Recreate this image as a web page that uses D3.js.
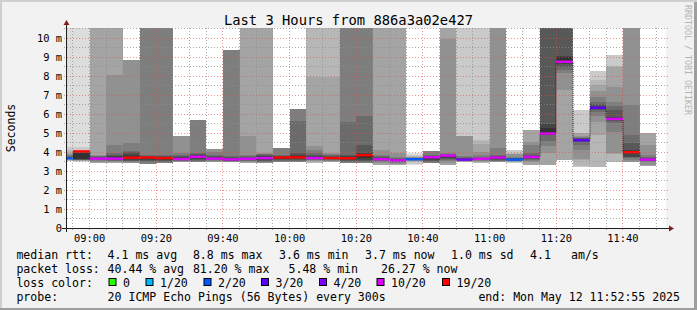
<!DOCTYPE html>
<html><head><meta charset="utf-8">
<script src="https://cdn.jsdelivr.net/npm/d3@7"></script>
<style>
html,body{margin:0;padding:0;background:#f2f2f2;}
svg{display:block;}
text{font-family:"DejaVu Sans Mono",monospace;}
</style></head><body>
<svg id="c" width="697" height="310"></svg>
<script>
// ---------------- data ----------------
const title = "Last 3 Hours from 886a3a02e427";
const yTitle = "Seconds";
const watermark = "RRDTOOL / TOBI OETIKER";
const endTime = "2025-05-12T11:52:55Z";
const firstColumnEnd = "2025-05-12T08:55:00Z"; // 5-minute RRD steps
const xTickLabels = ["09:00","09:20","09:40","10:00","10:20","10:40","11:00","11:20","11:40"];
const yTickValues = [0,1,2,3,4,5,6,7,8,9,10];
const yTickLabels = ["0","1 m","2 m","3 m","4 m","5 m","6 m","7 m","8 m","9 m","10 m"];
const yMax = 10.526; // ms, upper limit of the graph

// median rtt per 5-minute column (ms)
const medians = [3.67,4.03,3.65,3.65,3.70,3.71,3.68,3.63,3.75,3.65,3.61,3.64,3.68,3.71,3.72,3.68,3.68,3.67,
                 3.83,3.62,3.56,3.62,3.72,3.81,3.60,3.64,3.71,3.60,3.74,4.97,8.75,4.62,6.33,5.74,3.99,3.60];
// lost pings (of 20) per column
const losses = [2,16,8,8,12,12,12,8,8,8,8,7,7,12,12,6,12,12,
                12,7,7,2,8,7,4,8,9,2,8,8,8,3,3,6,12,7];
// sorted ping rtts per column (ms); null = lost, OFF = above the graph
const N = null, OFF = Infinity;
const pings = [
 [3.50,3.53,3.55,3.57,3.59,3.61,3.63,3.64,3.65,3.66,3.70,3.73,3.76,3.79,3.83,3.88,3.95,4.10,4.28,OFF],
 [3.48,3.50,3.52,3.54,3.56,3.58,3.59,3.60,3.62,3.63,3.96,3.97,3.98,3.99,4.00,4.01,4.02,4.05,4.28,OFF],
 [N,N,N,3.40,3.49,3.55,3.58,3.61,3.63,3.64,3.68,3.71,3.74,3.77,3.80,3.84,OFF,N,N,N],
 [N,N,N,3.42,3.46,3.50,3.54,3.57,3.60,3.62,3.72,3.78,3.85,3.93,4.37,8.05,OFF,N,N,N],
 [N,N,N,N,3.40,3.45,3.50,3.55,3.60,3.65,3.78,3.88,3.98,4.05,4.46,8.84,N,N,N,N],
 [N,N,N,N,N,3.38,3.45,3.52,3.58,3.64,3.73,3.76,3.80,3.85,OFF,N,N,N,N,N],
 [N,N,N,N,N,3.40,3.46,3.52,3.58,3.63,3.72,3.76,3.80,3.86,OFF,N,N,N,N,N],
 [N,N,N,N,3.45,3.50,3.54,3.57,3.59,3.61,3.68,3.74,3.80,3.86,3.93,4.84,N,N,N,N],
 [N,N,N,N,N,3.45,3.52,3.58,3.63,3.68,3.79,3.83,3.88,3.93,5.68,N,N,N,N,N],
 [N,N,N,N,3.47,3.52,3.56,3.59,3.61,3.63,3.68,3.72,3.78,3.84,4.02,4.16,N,N,N,N],
 [N,N,N,N,N,3.45,3.50,3.54,3.57,3.59,3.63,3.68,3.74,3.80,9.37,N,N,N,N,N],
 [N,N,N,3.42,3.47,3.52,3.55,3.58,3.60,3.62,3.66,3.69,3.73,3.78,3.85,4.84,OFF,N,N,N],
 [N,N,N,3.40,3.43,3.46,3.49,3.53,3.58,3.63,3.73,3.78,3.83,3.87,3.90,3.93,OFF,N,N,N],
 [N,N,N,N,N,3.47,3.52,3.57,3.61,3.65,3.73,3.77,3.81,3.86,4.22,N,N,N,N,N],
 [N,N,N,N,N,3.45,3.50,3.56,3.62,3.67,3.79,3.85,3.93,5.63,6.26,N,N,N,N,N],
 [N,N,3.42,3.52,3.55,3.58,3.60,3.62,3.64,3.66,3.72,3.78,3.85,3.95,4.11,4.33,7.96,OFF,N,N],
 [N,N,3.45,3.48,3.52,3.55,3.58,3.61,3.63,3.65,3.72,3.76,3.80,3.84,3.88,3.93,7.96,OFF,N,N],
 [N,N,N,N,N,3.42,3.47,3.53,3.58,3.63,3.72,3.78,3.84,5.60,OFF,N,N,N,N,N],
 [N,N,N,N,N,3.40,3.46,3.52,3.60,3.70,3.86,3.93,4.35,5.90,OFF,N,N,N,N,N],
 [N,N,N,3.32,3.40,3.48,3.53,3.56,3.58,3.60,3.65,3.69,3.73,3.78,3.84,4.11,OFF,N,N,N],
 [N,N,N,3.32,3.38,3.43,3.47,3.50,3.52,3.54,3.58,3.61,3.65,3.70,3.75,3.93,OFF,N,N,N],
 [3.32,3.38,3.45,3.50,3.53,3.56,3.58,3.59,3.60,3.61,3.64,3.66,3.67,3.68,3.70,3.72,3.76,3.80,3.85,3.97],
 [N,N,N,N,N,3.40,3.48,3.55,3.60,3.64,3.75,3.77,3.81,3.86,4.04,N,N,N,N,N],
 [N,N,N,3.32,3.40,3.50,3.58,3.65,3.70,3.75,3.82,3.84,3.86,3.89,3.93,9.95,OFF,N,N,N],
 [N,3.45,3.47,3.49,3.51,3.53,3.55,3.56,3.57,3.58,3.62,3.65,3.68,3.72,3.80,4.82,4.84,4.86,OFF,N],
 [N,3.40,3.44,3.47,3.50,3.53,3.56,3.58,3.60,3.62,3.65,3.67,3.70,3.75,3.84,4.00,4.40,4.63,OFF,N],
 [N,N,N,N,3.47,3.51,3.55,3.59,3.62,3.65,3.74,3.77,3.81,3.86,4.21,OFF,N,N,N,N],
 [N,3.40,3.45,3.48,3.50,3.53,3.55,3.57,3.58,3.59,3.63,3.65,3.67,3.70,3.75,3.89,3.91,3.93,4.11,N],
 [N,N,N,3.32,3.45,3.52,3.57,3.62,3.66,3.70,3.77,3.81,3.86,3.93,4.35,4.54,5.16,N,N,N],
 [N,N,N,3.32,3.93,4.30,4.60,4.88,4.90,4.93,5.25,5.45,OFF,OFF,OFF,OFF,OFF,N,N,N],
 [N,N,N,3.58,7.26,8.14,8.30,8.45,8.62,8.70,9.02,9.05,OFF,OFF,OFF,OFF,OFF,N,N,N],
 [N,3.22,3.24,3.58,3.62,4.10,4.37,4.55,4.58,4.60,4.65,4.68,4.72,4.76,4.80,4.85,4.98,5.00,6.21,N],
 [N,3.22,3.23,4.90,5.60,5.90,6.10,6.20,6.25,6.28,6.38,6.42,6.55,6.65,6.90,7.19,7.50,7.79,8.26,N],
 [N,3.45,3.46,3.92,3.93,5.07,5.50,5.62,5.67,5.70,5.78,5.82,6.21,6.40,6.65,7.44,8.49,8.52,9.10,N],
 [N,N,N,N,3.45,3.58,3.66,3.72,3.75,3.97,4.02,4.11,4.46,4.89,6.45,OFF,N,N,N,N],
 [N,N,N,3.28,3.33,3.46,3.50,3.54,3.56,3.58,3.63,3.65,3.68,3.72,3.84,4.37,5.02,N,N,N]
];

// loss colour legend
const lossSteps  = [0,1,2,3,4,10,19];
const lossLabels = ["0","1/20","2/20","3/20","4/20","10/20","19/20"];
const lossColors = ["#26ff00","#00b8ff","#0059ff","#5e00ff","#7e00ff","#dd00ff","#ff0000"];

// legend text rows
const rttItems  = ["median rtt:","4.1 ms avg","8.8 ms max","3.6 ms min","3.7 ms now","1.0 ms sd","4.1","am/s"];
const lossItems = ["packet loss:","40.44 % avg","81.20 % max","5.48 % min","26.27 % now"];
const lossColorTitle = "loss color:";
const probeItems = ["probe:","20 ICMP Echo Pings (56 Bytes) every 300s"];
const endText = "end: Mon May 12 11:52:55 2025";

// ---------------- layout ----------------
const W = 697, H = 310;
const P = {left:66, right:666, top:28, bottom:228};
const svg = d3.select("#c");

svg.append("rect").attr("width",W).attr("height",H).attr("fill","#f2f2f2");
svg.append("path").attr("d",`M0,0H${W}V2H2V${H}H0Z`).attr("fill","#cfcfcf");
svg.append("path").attr("d",`M${W},0V${H}H0V${H-2}H${W-3}V2H${W}Z`).attr("fill","#9e9e9e");
svg.append("rect").attr("x",P.left).attr("y",P.top).attr("width",P.right-P.left).attr("height",P.bottom-P.top).attr("fill","#ffffff");

const tEnd = new Date(endTime);
const tStart = d3.utcHour.offset(tEnd, -3);
const x = d3.scaleUtc().domain([tStart,tEnd]).range([P.left,P.right]);
const y = d3.scaleLinear().domain([0,yMax]).range([P.bottom,P.top]).clamp(true);

svg.append("clipPath").attr("id","clip").append("rect")
  .attr("x",P.left).attr("y",P.top).attr("width",P.right-P.left).attr("height",P.bottom-P.top);
const g = svg.append("g").attr("clip-path","url(#clip)");

const col0 = new Date(firstColumnEnd);
const cols = pings.map((p,k)=>{
  const e = d3.utcMinute.offset(col0, 5*k), s = d3.utcMinute.offset(e,-5);
  return {k, p, x0: Math.max(P.left, Math.round(x(s))), x1: Math.min(P.right, Math.round(x(e))),
          med: medians[k], loss: losses[k]};
});

// smoke (smokeping style: band i spans ping i .. ping 21-i, darker toward the middle)
const half = 10;
const grey = i => { const c = Math.floor(190/half*(half-i))+50; return d3.rgb(c,c,c).toString(); };
cols.forEach(c=>{
  for (let i=1;i<=half;i++){
    const lo = c.p[i-1], hi = c.p[20-i];
    if (lo==null || hi==null) continue;
    const yt = y(Math.min(hi,yMax)), yb = y(lo);
    g.append("rect").attr("x",c.x0).attr("width",c.x1-c.x0)
      .attr("y",yt).attr("height",Math.max(0,yb-yt)).attr("fill",grey(i))
      .attr("shape-rendering","crispEdges");
  }
});

// median line (thin) and loss coloured median bars
const pts = [];
cols.forEach(c=>{ pts.push([c.x0, y(c.med)]); pts.push([c.x1, y(c.med)]); });
g.append("path").attr("d", d3.line()(pts)).attr("fill","none")
  .attr("stroke","#202020").attr("stroke-width",1).attr("stroke-dasharray","1,1");
const lossColor = l => { for (let j=0;j<lossSteps.length;j++) if (l<=lossSteps[j]) return lossColors[j]; return lossColors[lossColors.length-1]; };
cols.forEach(c=>{
  g.append("rect").attr("x",c.x0).attr("width",c.x1-c.x0)
   .attr("y",y(c.med)-1.2).attr("height",2.4).attr("fill",lossColor(c.loss));
});

// grid
const minorCol = "rgba(143,143,143,0.75)", majorCol = "rgba(222,79,79,0.6)";
const gg = svg.append("g").attr("shape-rendering","crispEdges");
const yMinor = d3.range(1, Math.floor(yMax*2)+1).map(v=>v/2);
yMinor.forEach(v=>{
  const major = Number.isInteger(v);
  const yy = Math.round(y(v))+0.5;
  gg.append("line").attr("x1",P.left-2).attr("x2",P.right+2).attr("y1",yy).attr("y2",yy)
    .attr("stroke", major?majorCol:minorCol).attr("stroke-dasharray","1,2");
});
const xMinor = d3.utcMinute.every(5).range(tStart, tEnd);
xMinor.forEach(t=>{
  const major = t.getUTCMinutes()%20===0;
  const xx = Math.round(x(t)-0.5)+0.5;
  gg.append("line").attr("y1",P.top).attr("y2",P.bottom+2).attr("x1",xx).attr("x2",xx)
    .attr("stroke", major?majorCol:minorCol).attr("stroke-dasharray","1,2");
});

// axes
const axisCol = "#1f1f1f", arrowCol = "#801f1f";
svg.append("line").attr("x1",P.left-4).attr("x2",P.right+4).attr("y1",P.bottom+0.5).attr("y2",P.bottom+0.5).attr("stroke",axisCol);
svg.append("line").attr("x1",P.left+0.5).attr("x2",P.left+0.5).attr("y1",P.bottom+4).attr("y2",P.top-4).attr("stroke",axisCol);
svg.append("path").attr("d",`M${P.right+3},${P.bottom-2.5}L${P.right+8},${P.bottom+0.5}L${P.right+3},${P.bottom+3.5}Z`).attr("fill",arrowCol);
svg.append("path").attr("d",`M${P.left-2.5},${P.top-3}L${P.left+0.5},${P.top-8}L${P.left+3.5},${P.top-3}Z`).attr("fill",arrowCol);

// tick labels
const fmt = d3.utcFormat("%H:%M");
const xTicks = xTickLabels.map(s=>{ const [h,m]=s.split(":").map(Number); return new Date(Date.UTC(2025,4,12,h,m)); });
svg.append("g").selectAll("text").data(xTicks).join("text")
  .attr("x",d=>x(d)).attr("y",242).attr("text-anchor","middle")
  .attr("font-size","10.4px").attr("fill","#000").text(d=>fmt(d));
svg.append("g").selectAll("text").data(yTickValues).join("text")
  .attr("x",62).attr("y",d=>Math.round(y(d))+3.8).attr("text-anchor","end")
  .attr("font-size","10.4px").attr("fill","#000").text((d,i)=>yTickLabels[i]);

// titles
svg.append("text").attr("x",W/2).attr("y",25).attr("text-anchor","middle").attr("font-size","13.8px").text(title);
svg.append("text").attr("transform","translate(14.5,128) rotate(-90)").attr("text-anchor","middle")
  .attr("font-size","11.5px").text(yTitle);
svg.append("text").attr("transform","translate(685,5) rotate(90)").attr("font-size","8.3px")
  .attr("fill","#b4b4b4").text(watermark);

// legend
const LF = "11.55px";
const row = (items, xs, yb) => items.forEach((t,i)=>svg.append("text").attr("x",xs[i]).attr("y",yb)
  .attr("font-size",LF).attr("xml:space","preserve").text(t));
row(rttItems,  [16.4,107.6,192.9,279,365,451,530,571], 258.7);
row(lossItems, [16.4,107.6,192.9,288.5,381], 272.7);
row([lossColorTitle],[16.4],286.5);
const boxX = [108.5,145.5,203.5,261,319,376.5,442];
lossLabels.forEach((l,i)=>{
  svg.append("rect").attr("x",boxX[i]+0.5).attr("y",278.5).attr("width",7).attr("height",7)
    .attr("fill",lossColors[i]).attr("stroke","#000").attr("stroke-width",1);
  svg.append("text").attr("x",boxX[i]+14.5).attr("y",286.5).attr("font-size",LF).text(l);
});
row(probeItems,[16.4,107.6],300.5);
svg.append("text").attr("x",680).attr("y",300.5).attr("text-anchor","end").attr("font-size",LF).text(endText);
</script>
</body></html>
